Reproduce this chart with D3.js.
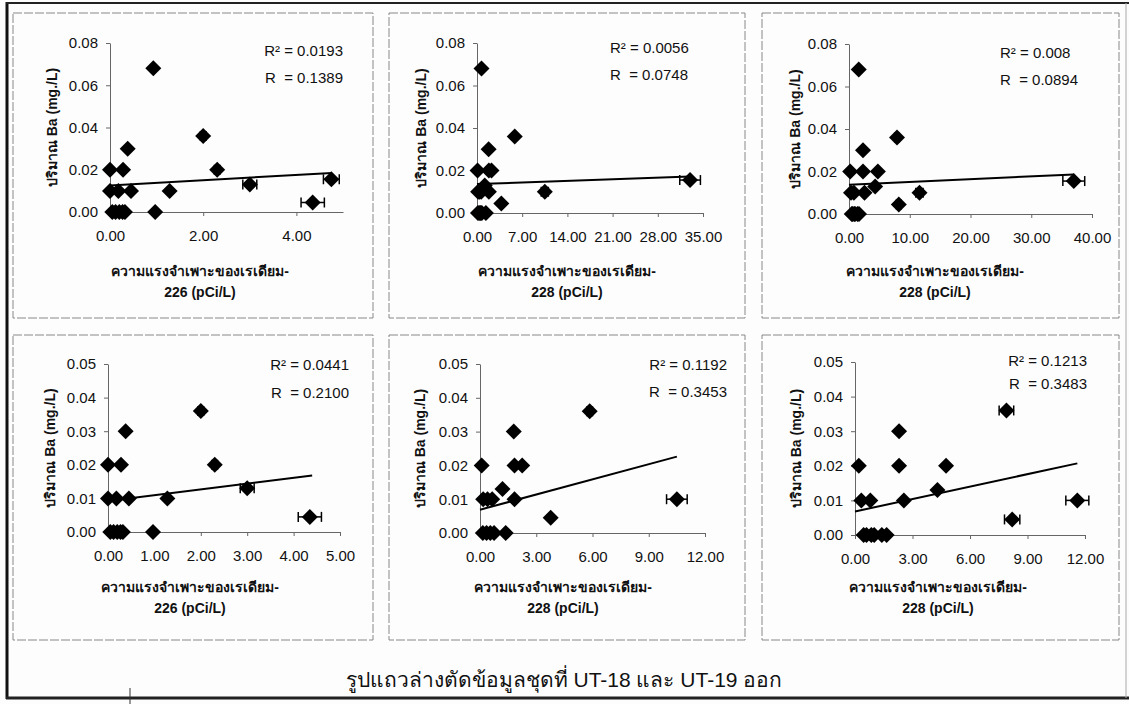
<!DOCTYPE html>
<html><head><meta charset="utf-8">
<script src="https://cdn.jsdelivr.net/npm/d3@7"></script>
<style>
body{margin:0;background:#fff;}
text{font-family:"Liberation Sans",Arial,"Noto Sans","DejaVu Sans",sans-serif;fill:#111;}
</style>
</head><body><svg id="c" width="1129" height="704"></svg>
<script>
// ---------- DATA ----------
// Ra-226 dataset (x, Ba y, horizontal error)
const ra226X   = [0.00, 0.00, 0.28, 0.18, 0.38, 0.45, 0.93, 0.97, 1.28, 2.00, 2.30, 3.00, 4.35, 4.75, 0.05, 0.12, 0.20, 0.27, 0.32];
const ra226Ba  = [0.020,0.010,0.020,0.010,0.030,0.010,0.068,0.000,0.010,0.036,0.020,0.013,0.0045,0.0155,0,0,0,0,0];
const ra226Err = [0,0,0,0,0,0,0,0,0,0.06,0.06,0.15,0.25,0.17,0,0,0,0,0];
const ra226Removed = [6, 13]; // UT-18, UT-19

// Ra-228 dataset A
const ra228aX   = [0.09, 0.17, 0.40, 0.65, 1.20, 1.80, 1.84, 2.25, 1.84, 3.77, 5.85, 10.5, 0.70, 33.0, 0.15, 0.35, 0.55, 0.75, 1.37];
const ra228aBa  = [0.020,0.010,0.010,0.010,0.013,0.030,0.020,0.020,0.010,0.0045,0.036,0.010,0.068,0.0155,0,0,0,0,0];
const ra228aErr = [0,0,0,0,0,0,0,0,0,0,0.15,0.55,0,1.6,0,0,0,0,0];
const ra228aRemoved = [12, 13];

// Ra-228 dataset B
const ra228bX   = [0.20, 0.33, 0.80, 2.30, 2.30, 2.55, 4.30, 4.75, 7.90, 8.20, 11.6, 1.60, 37.0, 0.45, 0.60, 0.85, 1.00, 1.40, 1.65];
const ra228bBa  = [0.020,0.010,0.010,0.030,0.020,0.010,0.013,0.020,0.036,0.0045,0.010,0.068,0.0155,0,0,0,0,0,0];
const ra228bErr = [0,0,0,0,0,0,0,0,0.38,0.40,0.6,0,1.8,0,0,0,0,0,0];
const ra228bRemoved = [11, 12];

// Trendline endpoints [x0,y0,x1,y1]
const trend1 = [0, 0.0126, 4.76, 0.0185];
const trend2 = [0, 0.0136, 33.0, 0.0172];
const trend3 = [0, 0.0138, 37.0, 0.0186];
const trend4 = [0, 0.0092, 4.40, 0.0168];
const trend5 = [0, 0.0069, 10.5, 0.0226];
const trend6 = [0, 0.0068, 11.6, 0.0207];

const r2Labels = ["0.0193","0.0056","0.008","0.0441","0.1192","0.1213"];
const rLabels  = ["0.1389","0.0748","0.0894","0.2100","0.3453","0.3483"];

const xTicks226All = [0, 2, 4];
const xTicks228aAll = [0, 7, 14, 21, 28, 35];
const xTicks228bAll = [0, 10, 20, 30, 40];
const xTicks226Cut = [0, 1, 2, 3, 4, 5];
const xTicks228Cut = [0, 3, 6, 9, 12];
const yTicksAll = [0, 0.02, 0.04, 0.06, 0.08];
const yTicksCut = [0, 0.01, 0.02, 0.03, 0.04, 0.05];

const yTitle = "ปริมาณ Ba (mg./L)";
const xTitleLine1 = "ความแรงจำเพาะของเรเดียม-";
const xTitle226 = "226 (pCi/L)";
const xTitle228 = "228 (pCi/L)";
const caption = "รูปแถวล่างตัดข้อมูลชุดที่ UT-18 และ UT-19 ออก";

// ---------- BUILD ----------
function keep(arr, removed){ return arr.filter((d,i)=>!removed.includes(i)); }
function pts(X,Y,E){ return X.map((x,i)=>({x, y:Y[i], e:E[i]})); }

const panels = [
 {data: pts(ra226X, ra226Ba, ra226Err), trend: trend1, xDom:[0,5], xTicks:xTicks226All, yDom:[0,0.08], yTicks:yTicksAll, xt2:xTitle226,
  box:[13,13,360,305], px:[110,343], py:[43,212], ylx:52, xtc:200, xty:[271,292], ra:"end", rx:343, ry:[51,78]},
 {data: pts(ra228aX, ra228aBa, ra228aErr), trend: trend2, xDom:[0,35], xTicks:xTicks228aAll, yDom:[0,0.08], yTicks:yTicksAll, xt2:xTitle228,
  box:[389,13,356,305], px:[477,703], py:[43,213], ylx:421, xtc:567, xty:[271,292], ra:"start", rx:610, ry:[48,75]},
 {data: pts(ra228bX, ra228bBa, ra228bErr), trend: trend3, xDom:[0,40], xTicks:xTicks228bAll, yDom:[0,0.08], yTicks:yTicksAll, xt2:xTitle228,
  box:[762,13,357,305], px:[849,1092], py:[44,214], ylx:795, xtc:935, xty:[271,292], ra:"start", rx:1000, ry:[53,80]},
 {data: pts(keep(ra226X,ra226Removed), keep(ra226Ba,ra226Removed), keep(ra226Err,ra226Removed)), trend: trend4, xDom:[0,5], xTicks:xTicks226Cut, yDom:[0,0.05], yTicks:yTicksCut, xt2:xTitle226,
  box:[13,335,360,305], px:[108,340], py:[364,532], ylx:50, xtc:190, xty:[587,608], ra:"end", rx:349, ry:[365,393]},
 {data: pts(keep(ra228aX,ra228aRemoved), keep(ra228aBa,ra228aRemoved), keep(ra228aErr,ra228aRemoved)), trend: trend5, xDom:[0,12], xTicks:xTicks228Cut, yDom:[0,0.05], yTicks:yTicksCut, xt2:xTitle228,
  box:[389,335,356,305], px:[480,705], py:[364,533], ylx:420, xtc:563, xty:[587,608], ra:"end", rx:727, ry:[365,392]},
 {data: pts(keep(ra228bX,ra228bRemoved), keep(ra228bBa,ra228bRemoved), keep(ra228bErr,ra228bRemoved)), trend: trend6, xDom:[0,12], xTicks:xTicks228Cut, yDom:[0,0.05], yTicks:yTicksCut, xt2:xTitle228,
  box:[762,335,357,305], px:[855,1085], py:[362,535], ylx:796, xtc:938, xty:[587,608], ra:"end", rx:1087, ry:[361,384]},
];

const svg = d3.select("#c");
svg.append("rect").attr("width",1129).attr("height",704).attr("fill","#fdfdfd");

// outer frame
svg.append("line").attr("x1",7).attr("x2",7).attr("y1",2).attr("y2",699).attr("stroke","#111").attr("stroke-width",3);
svg.append("line").attr("x1",6).attr("x2",1129).attr("y1",3).attr("y2",3).attr("stroke","#222").attr("stroke-width",2);
svg.append("line").attr("x1",6).attr("x2",1129).attr("y1",698).attr("y2",698).attr("stroke","#222").attr("stroke-width",3);
svg.append("line").attr("x1",1126).attr("x2",1126).attr("y1",3).attr("y2",698).attr("stroke","#aaa").attr("stroke-width",1);
svg.append("line").attr("x1",130).attr("x2",130).attr("y1",688).attr("y2",704).attr("stroke","#333").attr("stroke-width",1);

const diamond = "M0,-8L8,0L0,8L-8,0Z";

panels.forEach((p,k)=>{
  const g = svg.append("g");
  g.append("rect").attr("x",p.box[0]).attr("y",p.box[1]).attr("width",p.box[2]).attr("height",p.box[3])
    .attr("fill","none").attr("stroke","#888").attr("stroke-width",1).attr("stroke-dasharray","9,2");
  const x = d3.scaleLinear().domain(p.xDom).range(p.px);
  const y = d3.scaleLinear().domain(p.yDom).range([p.py[1], p.py[0]]);

  const ax = g.append("g").attr("transform",`translate(0,${p.py[1]})`)
     .call(d3.axisBottom(x).tickValues(p.xTicks).tickFormat(d3.format(".2f")).tickSizeInner(4).tickSizeOuter(0).tickPadding(14));
  const ay = g.append("g").attr("transform",`translate(${p.px[0]},0)`)
     .call(d3.axisLeft(y).tickValues(p.yTicks).tickFormat(d3.format(".2f")).tickSizeInner(4).tickSizeOuter(0).tickPadding(8));
  [ax,ay].forEach(a=>{
    a.select(".domain").attr("stroke","#666").attr("stroke-width",1);
    a.selectAll(".tick line").attr("stroke","#666");
    a.selectAll(".tick text").attr("font-size",15).attr("fill","#111")
      .style("font-family","'Liberation Sans',Arial,sans-serif");
  });

  // trendline
  const t = p.trend;
  g.append("line").attr("x1",x(t[0])).attr("y1",y(t[1])).attr("x2",x(t[2])).attr("y2",y(t[3]))
    .attr("stroke","#000").attr("stroke-width",2);

  // error bars
  const eb = g.selectAll(".eb").data(p.data.filter(d=>d.e>0)).enter().append("g");
  eb.append("line").attr("x1",d=>x(d.x-d.e)).attr("x2",d=>x(d.x+d.e)).attr("y1",d=>y(d.y)).attr("y2",d=>y(d.y)).attr("stroke","#000").attr("stroke-width",1.5);
  eb.append("line").attr("x1",d=>x(d.x-d.e)).attr("x2",d=>x(d.x-d.e)).attr("y1",d=>y(d.y)-5).attr("y2",d=>y(d.y)+5).attr("stroke","#000").attr("stroke-width",1.5);
  eb.append("line").attr("x1",d=>x(d.x+d.e)).attr("x2",d=>x(d.x+d.e)).attr("y1",d=>y(d.y)-5).attr("y2",d=>y(d.y)+5).attr("stroke","#000").attr("stroke-width",1.5);

  // markers
  g.selectAll(".pt").data(p.data).enter().append("path")
    .attr("d",diamond).attr("transform",d=>`translate(${x(d.x)},${y(d.y)})`).attr("fill","#000");

  // titles
  const cy = (p.py[0]+p.py[1])/2;
  g.append("text").attr("transform",`translate(${p.ylx},${cy}) rotate(-90)`).attr("text-anchor","middle")
    .attr("dy","0.35em").attr("font-size",14).attr("font-weight","bold").text(yTitle);
  g.append("text").attr("x",p.xtc).attr("y",p.xty[0]).attr("text-anchor","middle").attr("dy","0.35em")
    .attr("font-size",14).attr("font-weight","bold").text(xTitleLine1);
  g.append("text").attr("x",p.xtc).attr("y",p.xty[1]).attr("text-anchor","middle").attr("dy","0.35em")
    .attr("font-size",14).attr("font-weight","bold").text(p.xt2);

  // R texts
  g.append("text").attr("x",p.rx).attr("y",p.ry[0]).attr("dy","0.35em").attr("text-anchor",p.ra)
    .attr("font-size",15).text("R² = " + r2Labels[k]);
  g.append("text").attr("x",p.rx).attr("y",p.ry[1]).attr("dy","0.35em").attr("text-anchor",p.ra)
    .attr("font-size",15).attr("xml:space","preserve").style("white-space","pre").text("R  = " + rLabels[k]);
});

svg.append("text").attr("x",564).attr("y",680).attr("dy","0.35em").attr("text-anchor","middle")
  .attr("font-size",21).text(caption);
</script></body></html>
